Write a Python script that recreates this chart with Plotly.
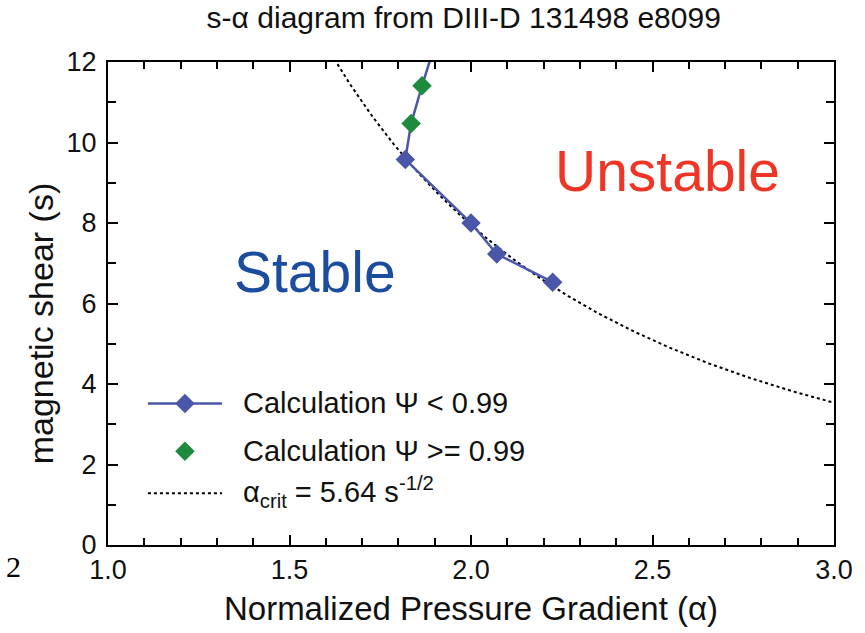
import numpy as np
import plotly.graph_objects as go

# ---- data ----
alpha_calc = [2.225, 2.071, 2.000, 1.819]        # Calculation Psi < 0.99
shear_calc = [6.53, 7.23, 8.00, 9.58]
alpha_edge = [1.835, 1.865]                      # Calculation Psi >= 0.99
shear_edge = [10.47, 11.41]
alpha_tail = [1.91]                              # line continues past the top
shear_tail = [12.7]
crit_coef = 5.64                                 # alpha_crit = 5.64 s^-1/2
x_ticks = [1.0, 1.5, 2.0, 2.5, 3.0]
y_ticks = [0, 2, 4, 6, 8, 10, 12]

BLUE = "#4a57a8"
GREEN = "#1e8a3e"
FONT = "Liberation Sans, Arial, sans-serif"

alpha_curve = np.linspace(1.55, 3.0, 300)
shear_curve = (crit_coef / alpha_curve) ** 2

fig = go.Figure()

fig.add_trace(go.Scatter(x=alpha_curve, y=shear_curve, mode="lines",
                         line=dict(color="black", width=2, dash="dot"),
                         showlegend=False, hoverinfo="skip"))
fig.add_trace(go.Scatter(x=alpha_calc + alpha_edge + alpha_tail,
                         y=shear_calc + shear_edge + shear_tail,
                         mode="lines", line=dict(color=BLUE, width=2.5),
                         showlegend=False, hoverinfo="skip"))
fig.add_trace(go.Scatter(x=alpha_calc, y=shear_calc, mode="markers",
                         marker=dict(symbol="diamond", size=15, color=BLUE),
                         showlegend=False))
fig.add_trace(go.Scatter(x=alpha_edge, y=shear_edge, mode="markers",
                         marker=dict(symbol="diamond", size=15, color=GREEN),
                         showlegend=False))

# ---- hand-made legend on an overlay axis (0..1 over the plot area) ----
lx0, lx1, lxm, ltx = 0.055, 0.157, 0.106, 0.183
rows = [0.293, 0.194, 0.107]
text_rows = [0.293, 0.194, 0.110]
fig.add_trace(go.Scatter(x=[lx0, lxm, lx1], y=[rows[0]] * 3, mode="lines",
                         line=dict(color=BLUE, width=2.5), xaxis="x2", yaxis="y2",
                         showlegend=False, hoverinfo="skip"))
fig.add_trace(go.Scatter(x=[lxm], y=[rows[0]], mode="markers",
                         marker=dict(symbol="diamond", size=15, color=BLUE),
                         xaxis="x2", yaxis="y2", showlegend=False, hoverinfo="skip"))
fig.add_trace(go.Scatter(x=[lxm], y=[rows[1]], mode="markers",
                         marker=dict(symbol="diamond", size=15, color=GREEN),
                         xaxis="x2", yaxis="y2", showlegend=False, hoverinfo="skip"))
fig.add_trace(go.Scatter(x=[lx0, lx1], y=[rows[2]] * 2, mode="lines",
                         line=dict(color="black", width=2, dash="dot"),
                         xaxis="x2", yaxis="y2", showlegend=False, hoverinfo="skip"))

legend_texts = ["Calculation Ψ < 0.99", "Calculation Ψ >= 0.99",
                "α<sub>crit</sub> = 5.64 s<sup>-1/2</sup>"]
for t, ry in zip(legend_texts, text_rows):
    fig.add_annotation(x=ltx, y=ry, xref="x2", yref="y2", text=t, showarrow=False,
                       xanchor="left", yanchor="middle",
                       font=dict(family=FONT, size=29, color="#111"))

fig.add_annotation(x=1.569, y=6.78, xref="x", yref="y", text="Stable", showarrow=False,
                   font=dict(family=FONT, size=57, color="#1b4c9e"))
fig.add_annotation(x=2.541, y=9.28, xref="x", yref="y", text="Unstable", showarrow=False,
                   font=dict(family=FONT, size=57, color="#ee3526"))
fig.add_annotation(x=-0.093, y=0.46, xref="paper", yref="paper", text="magnetic shear (s)",
                   textangle=-90, showarrow=False, xanchor="center", yanchor="middle",
                   font=dict(family=FONT, size=34, color="#111"))
fig.add_annotation(x=-0.1305, y=-0.045, xref="paper", yref="paper", text="2",
                   showarrow=False, xanchor="center", yanchor="middle",
                   font=dict(family="Liberation Serif, DejaVu Serif, serif",
                             size=30, color="black"))

axis_common = dict(showline=True, linecolor="black", linewidth=2, mirror="ticks",
                   ticks="inside", ticklen=10, tickwidth=1.5, tickcolor="black",
                   showgrid=False, zeroline=False,
                   tickfont=dict(family=FONT, size=27, color="#111"))

fig.update_layout(
    width=865, height=633,
    margin=dict(l=108, r=29, t=62, b=86),
    paper_bgcolor="white", plot_bgcolor="white",
    showlegend=False,
    title=dict(text="s-α diagram from DIII-D 131498 e8099", x=0.49, xref="paper",
               xanchor="center",
               y=0.972, yref="container", yanchor="middle",
               font=dict(family=FONT, size=30, color="#111")),
    xaxis=dict(range=[1.0, 3.0], tickvals=x_ticks, ticktext=[f"{v:.1f}" for v in x_ticks],
               minor=dict(dtick=0.1, tick0=1.0, ticks="inside", ticklen=7, tickwidth=1.5,
                          tickcolor="black"),
               title=dict(text="Normalized Pressure Gradient (α)", standoff=12,
                          font=dict(family=FONT, size=33, color="#111")),
               **axis_common),
    yaxis=dict(range=[0, 12], tickvals=y_ticks,
               minor=dict(dtick=1, tick0=0, ticks="inside", ticklen=8, tickwidth=1.5,
                          tickcolor="black"),
               ticklabelstandoff=4,
               **axis_common),
    xaxis2=dict(range=[0, 1], overlaying="x", anchor="y2", visible=False),
    yaxis2=dict(range=[0, 1], overlaying="y", anchor="x2", visible=False),
)

fig.write_html("out.html")
